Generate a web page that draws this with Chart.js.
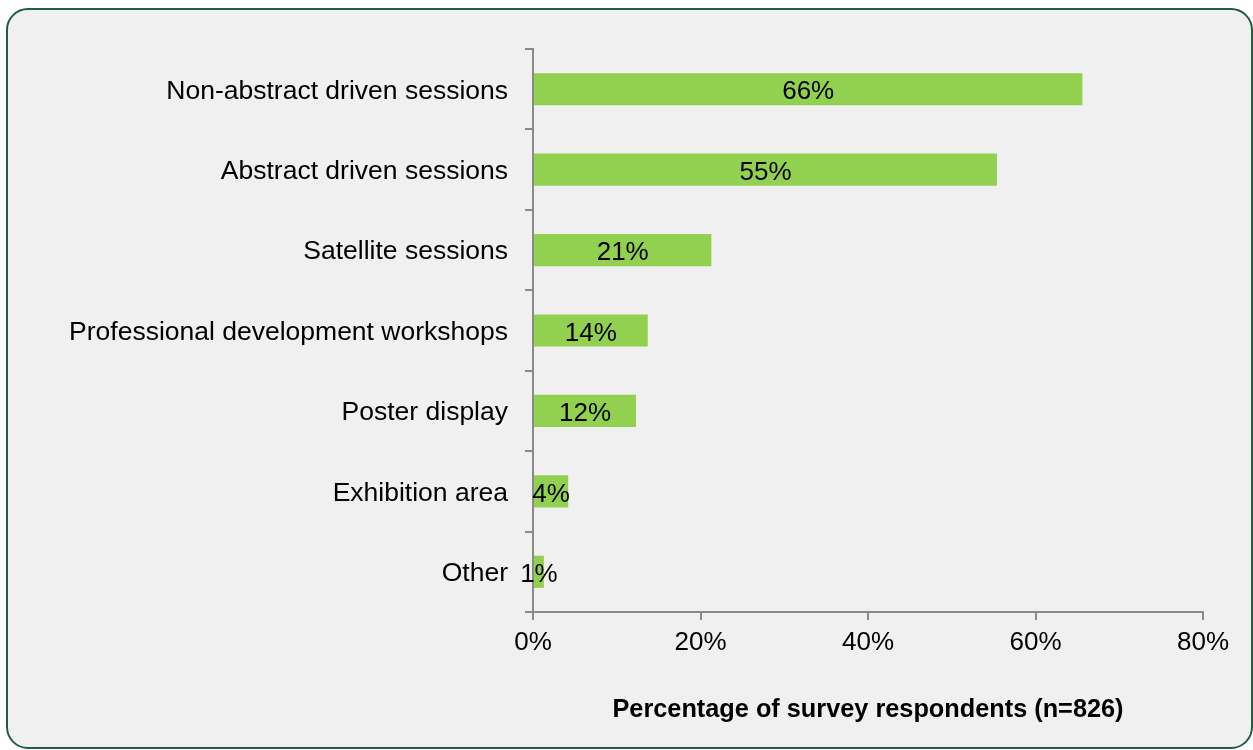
<!DOCTYPE html>
<html>
<head>
<meta charset="utf-8">
<script src="https://cdn.jsdelivr.net/npm/chart.js@4.4.1/dist/chart.umd.min.js"></script>
<style>
  html, body { margin: 0; padding: 0; background: #ffffff; }
  #frame {
    position: absolute; left: 6px; top: 8px;
    width: 1247px; height: 741px; box-sizing: border-box;
    background: #f0f0f0; border: 2px solid #1f5e43; border-radius: 22px;
  }
  #chart { position: absolute; left: 0; top: 0; }
</style>
</head>
<body>
<div id="frame"></div>
<canvas id="chart" width="1253" height="750"></canvas>
<script>
"use strict";

// ── Data ───────────────────────────────────────────────────────────────────
const categories = [
  "Non-abstract driven sessions",
  "Abstract driven sessions",
  "Satellite sessions",
  "Professional development workshops",
  "Poster display",
  "Exhibition area",
  "Other",
];
const percentValues = [65.6, 55.4, 21.3, 13.7, 12.3, 4.2, 1.3];
const xTickValues = [0, 20, 40, 60, 80];
const axisTitle = "Percentage of survey respondents (n=826)";

// ── Style ──────────────────────────────────────────────────────────────────
const FONT = "'Liberation Sans', Arial, sans-serif";
const AXIS_GREY = "#8a8a8a";
const BAR_GREEN = "#92d050";

// labels centred on each bar, like Excel's "center" data labels
const barLabels = {
  id: "barLabels",
  afterDatasetsDraw(chart) {
    const ctx = chart.ctx;
    const meta = chart.getDatasetMeta(0);
    ctx.save();
    ctx.font = "26px " + FONT;
    ctx.fillStyle = "#000000";
    ctx.textAlign = "center";
    ctx.textBaseline = "middle";
    meta.data.forEach((bar, i) => {
      const cx = (bar.x + bar.base) / 2;
      ctx.fillText(Math.round(percentValues[i]) + "%", cx, bar.y + 3);
    });
    ctx.restore();
  },
};

new Chart(document.getElementById("chart"), {
  type: "bar",
  data: {
    labels: categories,
    datasets: [{
      data: percentValues,
      backgroundColor: BAR_GREEN,
      borderWidth: 0,
      barPercentage: 0.4,
      categoryPercentage: 1,
    }],
  },
  options: {
    indexAxis: "y",
    responsive: false,
    animation: false,
    layout: { padding: { top: 49, right: 50, left: 0, bottom: 0 } },
    plugins: {
      legend: { display: false },
      tooltip: { enabled: false },
    },
    scales: {
      x: {
        min: 0,
        max: 80,
        afterBuildTicks: (scale) => {
          scale.ticks = xTickValues.map((v) => ({ value: v }));
        },
        afterFit: (scale) => { scale.height = 138; },
        border: { color: AXIS_GREY, width: 2 },
        grid: {
          drawOnChartArea: false,
          drawTicks: true,
          tickLength: 8,
          color: AXIS_GREY,
          lineWidth: 2,
        },
        ticks: {
          color: "#000000",
          padding: 7,
          font: { family: FONT, size: 26 },
          callback: (v) => v + "%",
        },
        title: {
          display: true,
          text: axisTitle,
          color: "#000000",
          font: { family: FONT, size: 25.3, weight: "bold" },
          padding: { top: 0, bottom: 25 },
        },
      },
      y: {
        afterFit: (scale) => { scale.width = 533; },
        border: { color: AXIS_GREY, width: 2 },
        grid: {
          offset: true,
          drawOnChartArea: false,
          drawTicks: true,
          tickLength: 8,
          color: AXIS_GREY,
          lineWidth: 2,
        },
        ticks: {
          color: "#000000",
          padding: 17,
          labelOffset: 2,
          font: { family: FONT, size: 26.5 },
        },
      },
    },
  },
  plugins: [barLabels],
});
</script>
</body>
</html>
